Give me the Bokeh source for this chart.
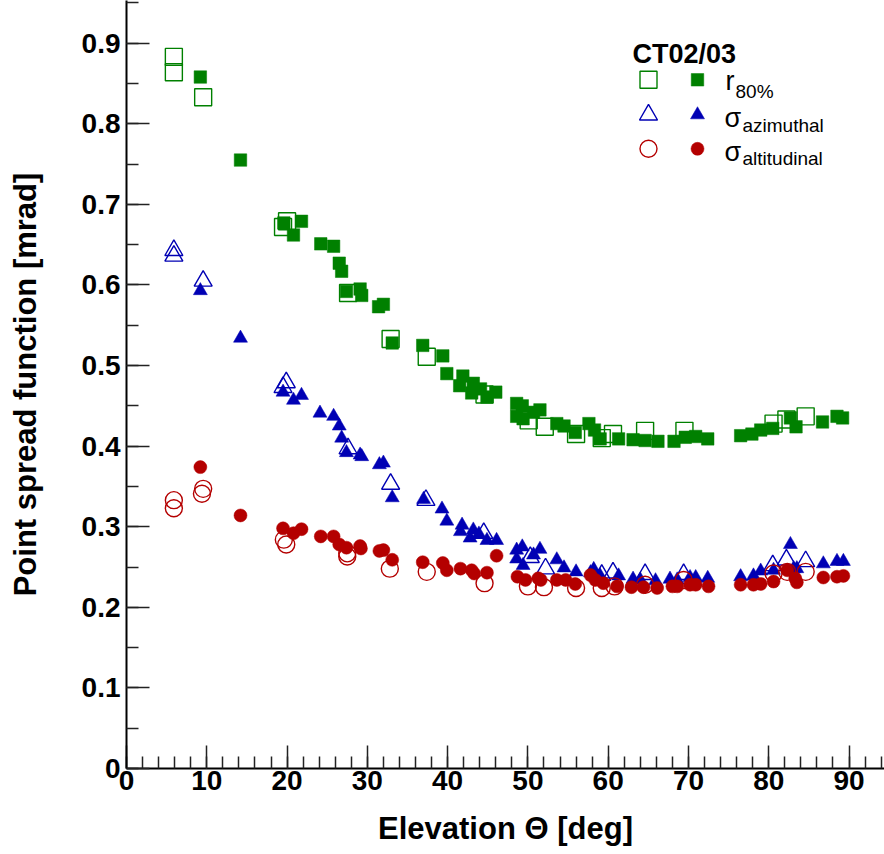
from bokeh.plotting import figure
from bokeh.models import Range1d, SingleIntervalTicker, CustomJSTickFormatter, Label
from bokeh.embed import file_html
from bokeh.resources import INLINE

# ---------------- data ----------------
r80_open_x = [5.9, 5.9, 9.55, 20.0, 19.5, 27.6, 32.9, 37.4, 44.6, 50.1, 52.1, 56.0, 59.2, 60.6, 64.6, 69.5, 80.6, 82.2, 84.6]
r80_open_y = [0.883, 0.864, 0.833, 0.679, 0.672, 0.590, 0.533, 0.511, 0.464, 0.432, 0.424, 0.415, 0.410, 0.415, 0.419, 0.419, 0.428, 0.433, 0.437]

r80_fill_x = [9.2, 14.2, 19.6, 20.8, 21.8, 24.2, 25.8, 26.5, 26.8, 27.4, 29.1, 29.3, 31.4, 32.0, 33.1, 36.9, 39.4, 39.9,
              41.9, 41.5, 43.2, 44.1, 43.0, 44.9, 46.0, 48.6, 49.3, 48.6, 49.4, 50.7, 51.5, 53.6, 54.5, 55.9, 57.6, 58.3,
              59.0, 61.3, 63.1, 64.6, 66.2, 68.2, 69.6, 70.9, 72.4, 76.5, 77.9, 79.0, 80.5, 82.7, 83.4, 86.7, 88.5, 89.2]
r80_fill_y = [0.858, 0.755, 0.677, 0.662, 0.679, 0.651, 0.648, 0.627, 0.617, 0.592, 0.595, 0.587, 0.573, 0.576, 0.528, 0.525,
              0.512, 0.490, 0.487, 0.475, 0.478, 0.471, 0.466, 0.461, 0.467, 0.453, 0.450, 0.437, 0.434, 0.442, 0.445, 0.428,
              0.425, 0.417, 0.428, 0.420, 0.409, 0.409, 0.408, 0.407, 0.406, 0.406, 0.411, 0.412, 0.409, 0.413, 0.415, 0.420,
              0.422, 0.435, 0.424, 0.430, 0.437, 0.435]

az_open_x = [5.9, 5.9, 9.55, 19.9, 19.5, 27.6, 32.9, 37.3, 44.5, 50.3, 52.2, 59.2, 60.6, 64.6, 69.4, 80.5, 82.2, 84.6]
az_open_y = [0.643, 0.636, 0.605, 0.479, 0.473, 0.397, 0.353, 0.333, 0.292, 0.262, 0.248, 0.240, 0.243, 0.241, 0.241, 0.252, 0.259, 0.257]

az_fill_x = [9.2, 14.2, 19.5, 20.8, 21.8, 24.1, 25.8, 26.5, 26.8, 27.4, 29.1, 29.3, 31.5, 32.0, 33.1, 37.0, 39.3, 39.9,
             41.8, 41.6, 43.2, 42.8, 43.9, 44.9, 46.1, 48.6, 49.3, 48.6, 49.4, 50.7, 51.5, 53.6, 54.5, 56.0, 57.8, 58.2,
             59.0, 61.3, 63.1, 64.0, 65.9, 67.7, 68.6, 70.2, 70.9, 72.4, 76.5, 78.1, 79.0, 80.6, 82.7, 83.1, 83.5, 86.8,
             88.5, 89.3]
az_fill_y = [0.593, 0.534, 0.467, 0.457, 0.463, 0.441, 0.437, 0.425, 0.410, 0.392, 0.389, 0.387, 0.377, 0.379, 0.336, 0.334,
             0.322, 0.307, 0.302, 0.294, 0.296, 0.286, 0.291, 0.283, 0.283, 0.271, 0.275, 0.260, 0.252, 0.265, 0.272, 0.259,
             0.249, 0.244, 0.243, 0.247, 0.239, 0.239, 0.235, 0.234, 0.233, 0.235, 0.234, 0.237, 0.237, 0.236, 0.238, 0.239,
             0.245, 0.246, 0.278, 0.248, 0.248, 0.254, 0.257, 0.257]

alt_open_x = [5.9, 5.9, 9.55, 9.4, 19.6, 19.9, 27.5, 27.5, 32.8, 37.4, 44.6, 50.0, 52.0, 56.0, 59.2, 60.8, 64.6, 69.4, 80.6, 82.3, 84.6]
alt_open_y = [0.333, 0.323, 0.347, 0.341, 0.284, 0.278, 0.267, 0.263, 0.248, 0.244, 0.230, 0.226, 0.225, 0.224, 0.224, 0.226,
              0.228, 0.234, 0.242, 0.244, 0.244]

alt_fill_x = [9.2, 14.2, 19.5, 20.8, 21.8, 24.2, 25.8, 26.5, 27.4, 29.1, 29.2, 31.5, 32.0, 33.1, 36.9, 39.4, 39.9, 41.6,
              43.0, 43.3, 44.9, 46.1, 48.7, 49.7, 51.3, 51.6, 53.6, 54.7, 55.9, 57.8, 58.4, 59.4, 61.1, 62.9, 64.4, 66.1,
              68.0, 68.6, 70.2, 70.9, 72.5, 76.5, 78.1, 79.0, 80.6, 82.3, 83.3, 83.5, 86.8, 88.5, 89.3]
alt_fill_y = [0.374, 0.314, 0.298, 0.292, 0.297, 0.288, 0.288, 0.278, 0.274, 0.276, 0.273, 0.270, 0.271, 0.259, 0.256, 0.255,
              0.246, 0.248, 0.246, 0.242, 0.243, 0.264, 0.238, 0.234, 0.236, 0.234, 0.234, 0.234, 0.229, 0.240, 0.234, 0.230,
              0.226, 0.225, 0.225, 0.224, 0.226, 0.226, 0.228, 0.228, 0.226, 0.228, 0.228, 0.229, 0.232, 0.246, 0.236, 0.231,
              0.237, 0.238, 0.239]

GREEN = "#008000"
BLUE = "#0000b4"
RED = "#b40000"
FONT = "Liberation Sans"

X_END = 94.42
Y_END = 0.953
W, H = 884, 854
LEFT, BOTTOM = 126, 86
FW, FH = W - LEFT, H - BOTTOM

p = figure(width=W, height=H, x_range=Range1d(0, X_END), y_range=Range1d(0, Y_END),
           output_backend="svg", toolbar_location=None,
           min_border_left=LEFT, min_border_right=0, min_border_top=0, min_border_bottom=BOTTOM)
p.xgrid.visible = False
p.ygrid.visible = False
p.outline_line_color = None
p.background_fill_color = "white"
p.border_fill_color = "white"

p.xaxis.ticker = SingleIntervalTicker(interval=10, num_minor_ticks=5)
p.yaxis.ticker = SingleIntervalTicker(interval=0.1, num_minor_ticks=2)
p.yaxis.formatter = CustomJSTickFormatter(code="return Math.abs(tick) < 1e-9 ? '0' : tick.toFixed(1);")
p.xaxis.formatter = CustomJSTickFormatter(code="return Math.round(tick).toString();")

for ax in (p.xaxis[0], p.yaxis[0]):
    ax.axis_line_width = 2
    ax.axis_line_color = "black"
    ax.major_tick_in = 23
    ax.major_tick_out = 0
    ax.minor_tick_in = 12
    ax.minor_tick_out = 0
    ax.major_tick_line_color = "#222222"
    ax.minor_tick_line_color = "#222222"
    ax.major_tick_line_width = 1.5
    ax.minor_tick_line_width = 1.5
    ax.major_label_text_font = FONT
    ax.major_label_text_font_style = "bold"
    ax.major_label_text_font_size = "28px"
    ax.major_label_text_color = "black"
    ax.axis_label_text_font = FONT
    ax.axis_label_text_font_style = "bold"
    ax.axis_label_text_font_size = "31px"
    ax.axis_label_text_color = "black"

p.xaxis.axis_label = "Elevation Θ [deg]"
p.yaxis.axis_label = "Point spread function [mrad]"
p.xaxis.major_label_standoff = 2
p.yaxis.major_label_standoff = 6
p.xaxis.axis_label_standoff = 18
p.yaxis.axis_label_standoff = 36

# ---------------- data marks ----------------
p.scatter(r80_open_x, r80_open_y, marker="square", size=17, fill_alpha=0, line_color=GREEN, line_width=1.4)
p.scatter(r80_fill_x, r80_fill_y, marker="square", size=12.5, fill_color=GREEN, line_color=GREEN, line_width=0.5)
p.scatter(az_open_x, az_open_y, marker="triangle", size=18, fill_alpha=0, line_color=BLUE, line_width=1.4)
p.scatter(az_fill_x, az_fill_y, marker="triangle", size=14, fill_color=BLUE, line_color=BLUE, line_width=0.5)
p.scatter(alt_open_x, alt_open_y, marker="circle", size=17, fill_alpha=0, line_color=RED, line_width=1.4)
p.scatter(alt_fill_x, alt_fill_y, marker="circle", size=13, fill_color=RED, line_color=RED, line_width=0.5)

# ---------------- legend (drawn by hand, ROOT style) ----------------
def dx(px):
    return (px - LEFT) / FW * X_END

def dy(py):
    return (FH - py) / FH * Y_END

rows = [(79.3, "square", GREEN, 12.5, 17), (114.3, "triangle", BLUE, 14, 18), (148.3, "circle", RED, 13, 17)]
for ry, mk, col, sfill, sopen in rows:
    p.scatter([dx(648)], [dy(ry)], marker=mk, size=sopen, fill_alpha=0, line_color=col, line_width=1.4)
    p.scatter([dx(697)], [dy(ry)], marker=mk, size=sfill, fill_color=col, line_color=col, line_width=0.5)

def lab(text, px, py, size, bold=False):
    p.add_layout(Label(x=px - LEFT, y=FH - py, x_units="screen", y_units="screen", text=text,
                       text_font=FONT, text_font_size=size, text_font_style="bold" if bold else "normal",
                       text_color="black", text_baseline="alphabetic", text_align="left"))

lab("CT02/03", 632, 53, "27px", bold=True)
lab("r", 725, 80, "27px")
lab("80%", 735, 91, "19px")
lab("σ", 724, 117, "27px")
lab("azimuthal", 742, 125, "19px")
lab("σ", 724, 151, "27px")
lab("altitudinal", 742, 158, "19px")

open("out.html", "w").write(file_html(p, INLINE))
